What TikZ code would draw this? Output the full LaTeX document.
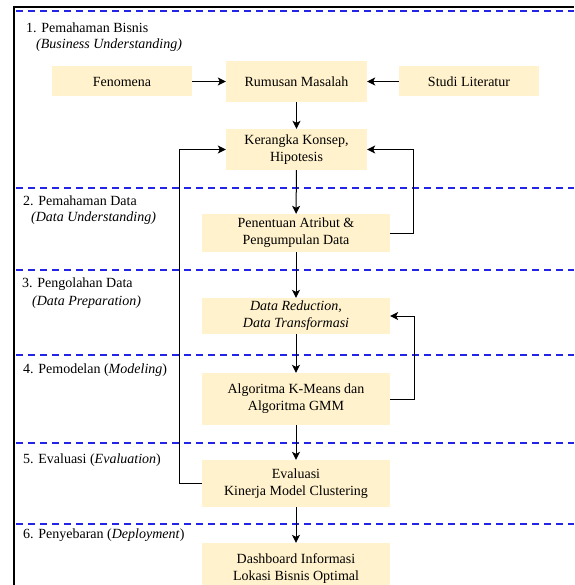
\documentclass[tikz,border=0pt]{standalone}
\usepackage{fontspec}
\setmainfont{Liberation Serif}[ItalicFont={Liberation Serif Italic}]
\usetikzlibrary{arrows.meta}
\definecolor{boxfill}{HTML}{FFF2CC}
\definecolor{sepblue}{HTML}{2424E6}
\tikzset{
  stepbox/.style={fill=boxfill,align=center,inner sep=0pt,minimum width=188pt,font=\fontsize{14}{17}\selectfont},
  lbl/.style={anchor=west,inner sep=0pt,font=\fontsize{14}{17}\selectfont},
  arr/.style={-{Stealth[length=8pt,width=8pt,inset=2pt]},line width=1pt},
  sepline/.style={sepblue,line width=2.2pt,dash pattern=on 7pt off 5pt}
}

\begin{document}
\begin{tikzpicture}[x=1pt,y=-1pt]
\useasboundingbox (0,0) rectangle (574,585);
% frame
\draw[line width=1.5pt] (14,585) -- (14,7) -- (574,7);
% phase separators
\foreach \yy in {11,188,270,355,443,524}{
  \draw[sepline] (16,\yy) -- (574,\yy);
}
% phase labels
\node[lbl] (lbisnis) at (26,28) {1. Pemahaman Bisnis};
\node[lbl] (lbisnisen) at (36,45) {\textit{(Business Understanding)}};
\node[lbl] (ldata) at (23,201) {2. Pemahaman Data};
\node[lbl] (ldataen) at (31,218) {\textit{(Data Understanding)}};
\node[lbl] (lolah) at (22,284) {3. Pengolahan Data};
\node[lbl] (lolahen) at (32,302) {\textit{(Data Preparation)}};
\node[lbl] (lmodel) at (23,370) {4. Pemodelan (\textit{Modeling})};
\node[lbl] (leval) at (23,460) {5. Evaluasi (\textit{Evaluation})};
\node[lbl] (ldeploy) at (23,535) {6. Penyebaran (\textit{Deployment})};

% boxes
\node[stepbox,minimum width=140pt,minimum height=30pt] (fen) at (122,81.5) {Fenomena};
\node[stepbox,minimum width=141pt,minimum height=41pt] (rum) at (296.5,81.5) {Rumusan Masalah};
\node[stepbox,minimum width=140pt,minimum height=30pt] (stu) at (469,81.5) {Studi Literatur};
\node[stepbox,minimum width=141pt,minimum height=41pt] (ker) at (296.5,149.5) {Kerangka Konsep,\\Hipotesis};
\node[stepbox,minimum height=38pt] (pen) at (296,233) {Penentuan Atribut \&\\Pengumpulan Data};
\node[stepbox,minimum height=36pt] (red) at (296,316) {\textit{Data Reduction,}\\\textit{Data Transformasi}};
\node[stepbox,minimum height=52pt] (alg) at (296,399) {Algoritma K-Means dan\\Algoritma GMM};
\node[stepbox,minimum height=47pt] (eva) at (296,483.5) {Evaluasi\\Kinerja Model Clustering};
\node[stepbox,minimum height=52pt] (das) at (296,569) {Dashboard Informasi\\Lokasi Bisnis Optimal};

% main flow
\draw[arr] (fen) -- (rum);
\draw[arr] (stu) -- (rum);
\draw[arr] (rum) -- (ker);
\draw[arr] (ker) -- (pen);
\draw[arr] (pen) -- (red);
\draw[arr] (red) -- (alg);
\draw[arr] (alg) -- (eva);
\draw[arr] (eva) -- (das);

% feedback loops
\draw[arr] (pen.east) -- ++(23,0) |- (ker.east);
\draw[arr] (alg.east) -- ++(24,0) |- (red.east);
\draw[arr] (eva.west) -- ++(-22,0) |- (ker.west);

\end{tikzpicture}
\end{document}
